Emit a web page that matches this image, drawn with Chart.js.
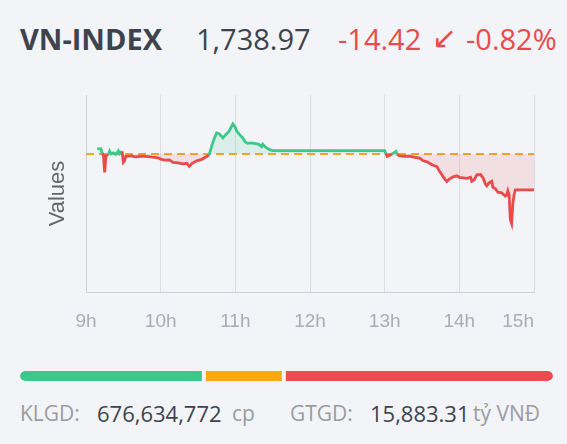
<!DOCTYPE html>
<html>
<head>
<meta charset="utf-8">
<script src="https://cdn.jsdelivr.net/npm/chart.js@4"></script>
<style>
  body { margin: 0; width: 567px; height: 444px; overflow: hidden; position: relative;
         background: #f3f4f8; font-family: "Open Sans", sans-serif; }
  .t { position: absolute; white-space: nowrap; }
  .head { top: 19px; font-size: 29px; line-height: 40px; }
  .foot { top: 399px; font-size: 21px; line-height: 28px; }
  .val { font-size: 22px; }
  .dark { color: #3d434f; }
  .grey { color: #9a9ca1; }
  .red { color: #e94b4b; }
  #main { position: absolute; left: 0; top: 80px; }
  #breadth { position: absolute; left: 0; top: 371px; }
</style>
</head>
<body>
<div class="t head dark" style="left:20px;font-weight:700">VN-INDEX</div>
<div class="t head dark" style="left:196px">1,738.97</div>
<div class="t head red" style="left:338px">-14.42</div>
<div class="t head red" style="left:432px;font-family:'DejaVu Sans';font-size:30px;top:18px">↙</div>
<div class="t head red" style="left:466px">-0.82%</div>

<canvas id="main" width="567" height="270"></canvas>
<canvas id="breadth" width="567" height="10"></canvas>

<div class="t foot grey" style="left:20px">KLGD:</div>
<div class="t foot dark val" style="left:97px">676,634,772</div>
<div class="t foot grey" style="left:232px">cp</div>
<div class="t foot grey" style="left:290px">GTGD:</div>
<div class="t foot dark val" style="left:370px">15,883.31</div>
<div class="t foot grey" style="left:473px">tỷ VNĐ</div>

<script>
// intraday VN-INDEX ticks (time, value)
const times = ['09:09','09:12','09:13','09:14','09:15','09:16','09:18','09:19','09:20','09:22',
  '09:24','09:26','09:27','09:29','09:30','09:31','09:32','09:36','09:40','09:45',
  '09:50','09:55','09:58','10:00','10:03','10:07','10:10','10:14','10:18','10:21',
  '10:23','10:25','10:29','10:33','10:36','10:39','10:41','10:43','10:45','10:47',
  '10:50','10:53','10:55','10:58','11:00','11:01','11:04','11:06','11:08','11:10',
  '11:13','11:16','11:19','11:21','11:22','11:24','11:26','11:28','11:30','13:00',
  '13:01','13:02','13:04','13:06','13:09','13:10','13:12','13:16','13:20','13:24',
  '13:28','13:31','13:34','13:38','13:42','13:44','13:46','13:48','13:50','13:52',
  '13:55','13:58','14:00','14:03','14:06','14:09','14:10','14:12','14:14','14:17',
  '14:19','14:21','14:22','14:24','14:26','14:27','14:29','14:31','14:34','14:37',
  '14:38','14:39','14:40','14:41','14:42','14:43','14:44','14:45','15:00'];
const values = [1755.5,1755.4,1753.6,1752.9,1746.0,1752.6,1753.2,1754.5,1753.4,1753.8,
  1753.2,1754.6,1753.4,1754.4,1750.0,1750.6,1752.4,1752.6,1752.2,1752.5,
  1752.3,1752.0,1751.8,1751.3,1750.9,1751.0,1750.0,1749.8,1749.4,1749.6,
  1748.4,1749.5,1750.6,1751.2,1752.0,1753.0,1756.5,1759.5,1761.8,1761.5,
  1759.8,1761.5,1762.5,1765.4,1764.0,1762.6,1760.8,1759.8,1758.2,1757.6,
  1757.8,1757.5,1757.2,1756.3,1757.3,1756.2,1755.5,1755.0,1754.7,1754.7,
  1753.5,1752.4,1752.8,1753.3,1754.4,1753.2,1752.6,1752.4,1752.5,1752.0,
  1751.7,1750.6,1750.2,1749.0,1748.3,1746.5,1745.0,1743.5,1742.3,1743.3,
  1744.2,1744.6,1744.0,1743.8,1743.6,1744.0,1742.4,1743.0,1745.0,1745.1,
  1743.8,1741.2,1740.6,1741.8,1742.4,1740.0,1739.4,1738.0,1737.8,1736.4,
  1736.8,1738.6,1737.0,1727.0,1725.5,1733.5,1737.0,1738.97,1738.97];
const prevClose = 1753.39;
const yMin = 1698, yMax = 1777;

// x axis: minutes after 9:00
const xTickValues = [0, 60, 120, 180, 240, 300, 360];
const xTickLabels = ['9h', '10h', '11h', '12h', '13h', '14h', '15h'];

// market breadth bar: up / unchanged / down
const breadthLabels = ['Tăng', 'Đứng giá', 'Giảm'];
const breadthValues = [138, 60, 202];
const breadthColors = ['#3cc88b', '#fda90d', '#ee4b50'];

const bg = '#f3f4f8';
const green = '#3cc88b', red = '#ea4a4a', orange = '#f5a524';

function toMin(t) {
  const [h, m] = t.split(':').map(Number);
  return (h - 9) * 60 + m;
}

const hourLabels = {
  id: 'hourLabels',
  afterDraw(chart) {
    const s = chart.scales.x, ctx = chart.ctx;
    ctx.save();
    ctx.font = '19px "Liberation Sans", Arial, sans-serif';
    ctx.fillStyle = '#abadb2';
    ctx.textBaseline = 'middle';
    xTickValues.forEach((v, i) => {
      const last = i === xTickValues.length - 1;
      ctx.textAlign = last ? 'right' : 'center';
      ctx.fillText(xTickLabels[i], s.getPixelForValue(v), s.top + 30);
    });
    ctx.restore();
  }
};

new Chart(document.getElementById('main'), {
  type: 'line',
  data: {
    datasets: [{
      data: times.map((t, i) => ({ x: toMin(t), y: values[i] })),
      borderColor: green,
      borderWidth: 2.8,
      pointRadius: 0,
      tension: 0,
      segment: {
        borderColor: c => ((c.p0.parsed.y + c.p1.parsed.y) / 2 >= prevClose ? green : red)
      },
      fill: { target: { value: prevClose }, above: 'rgba(60,200,139,0.13)', below: 'rgba(234,74,74,0.12)' }
    }, {
      data: [{ x: 0, y: prevClose }, { x: 360, y: prevClose }],
      borderColor: orange,
      borderWidth: 2,
      borderDash: [8, 5],
      pointRadius: 0,
      fill: false
    }]
  },
  options: {
    responsive: false,
    animation: false,
    layout: { padding: { left: 41, right: 33, top: 15, bottom: 0 } },
    plugins: { legend: { display: false }, tooltip: { enabled: false } },
    scales: {
      x: {
        type: 'linear', min: 0, max: 360,
        ticks: { display: false },
        afterBuildTicks(s) { s.ticks = xTickValues.map(v => ({ value: v })); },
        grid: { color: '#dcdde3', drawTicks: false },
        border: { color: '#d0d1d7' },
        afterFit(s) { s.height = 58; }
      },
      y: {
        min: yMin, max: yMax,
        ticks: { display: false },
        grid: { display: false, drawTicks: false },
        border: { color: '#d0d1d7' },
        title: { display: true, text: 'Values', color: '#666', font: { size: 22, family: '"Liberation Sans", Arial' } },
        afterFit(s) { s.width = 45; }
      }
    }
  },
  plugins: [hourLabels]
});

const n = breadthValues.length;
new Chart(document.getElementById('breadth'), {
  type: 'bar',
  data: {
    labels: [''],
    datasets: breadthValues.map((v, i) => ({
      label: breadthLabels[i],
      data: [v],
      backgroundColor: breadthColors[i],
      borderColor: bg,
      borderWidth: { left: i === 0 ? 0 : 2, right: i === n - 1 ? 0 : 2, top: 0, bottom: 0 },
      borderSkipped: false,
      borderRadius: i === 0 ? { topLeft: 5, bottomLeft: 5, topRight: 0, bottomRight: 0 }
        : i === n - 1 ? { topLeft: 0, bottomLeft: 0, topRight: 5, bottomRight: 5 } : 0,
      barThickness: 10,
      inflateAmount: 0
    }))
  },
  options: {
    indexAxis: 'y',
    responsive: false,
    animation: false,
    layout: { padding: { left: 20, right: 14, top: 0, bottom: 0 } },
    plugins: { legend: { display: false }, tooltip: { enabled: false } },
    scales: {
      x: { stacked: true, display: false, min: 0, max: breadthValues.reduce((a, b) => a + b, 0) },
      y: { stacked: true, display: false }
    }
  }
});
</script>
</body>
</html>
